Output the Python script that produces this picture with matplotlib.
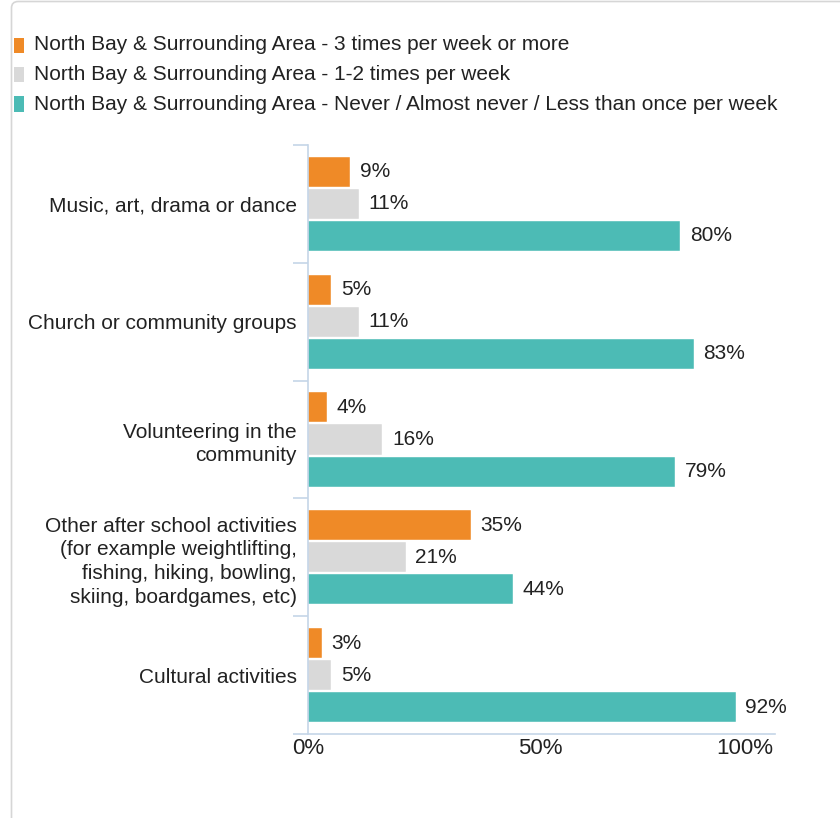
import matplotlib
matplotlib.use("Agg")
import matplotlib.pyplot as plt
from matplotlib.patches import Rectangle, FancyBboxPatch
import numpy as np

plt.rcParams['font.family'] = ['Liberation Sans', 'DejaVu Sans']

categories = [
    "Music, art, drama or dance",
    "Church or community groups",
    "Volunteering in the\ncommunity",
    "Other after school activities\n(for example weightlifting,\nfishing, hiking, bowling,\nskiing, boardgames, etc)",
    "Cultural activities",
]
series_names = [
    "North Bay & Surrounding Area - 3 times per week or more",
    "North Bay & Surrounding Area - 1-2 times per week",
    "North Bay & Surrounding Area - Never / Almost never / Less than once per week",
]
three_plus = [9, 5, 4, 35, 3]
one_two = [11, 11, 16, 21, 5]
never = [80, 83, 79, 44, 92]
colors = ["#EF8A27", "#D9D9D9", "#4CBBB5"]
x_ticks = [0, 50, 100]
x_tick_labels = ["0%", "50%", "100%"]

W, H = 840, 818
fig = plt.figure(figsize=(W / 100, H / 100), dpi=100)

# border
fig.add_artist(FancyBboxPatch((11.5 / W, -10 / H), (W + 20) / W, (H - 1.5 + 10) / H,
                              boxstyle="round,pad=0,rounding_size=0.008",
                              transform=fig.transFigure, fc="none", ec="#D6D6D6", lw=1.2))

ax_left, ax_right = 308, 775
ax_top, ax_bot = 145, 734
ax = fig.add_axes([ax_left / W, 1 - ax_bot / H, (ax_right - ax_left) / W, (ax_bot - ax_top) / H])

n = len(categories)
y = np.arange(n)
h = 0.255
off = 0.272
text_color = "#222222"
fs = 15
for i, (vals, c) in enumerate(zip([three_plus, one_two, never], colors)):
    yy = y + (i - 1) * off
    ax.barh(yy, vals, height=h, color=c, edgecolor="white", linewidth=0.3)
    for yv, v in zip(yy, vals):
        ax.annotate(f"{v}%", (v, yv), xytext=(7, 0), textcoords="offset points",
                    ha="left", va="center", fontsize=fs, color=text_color)

ax.set_ylim(n - 0.5, -0.5)
ax.set_xlim(0, 100.45)
axis_color = "#C5D5E8"
for s in ["top", "right"]:
    ax.spines[s].set_visible(False)
ax.spines["left"].set_color(axis_color)
ax.spines["bottom"].set_color(axis_color)
ax.spines["left"].set_linewidth(1.2)
ax.spines["bottom"].set_linewidth(1.2)

ax.set_yticks(y)
ax.set_yticklabels(categories, fontsize=fs, color=text_color, linespacing=1.32)
ax.tick_params(axis="y", which="major", length=0, pad=8)
ax.set_yticks(np.arange(n + 1) - 0.5, minor=True)
ax.tick_params(axis="y", which="minor", length=11, color=axis_color, width=1.2)
for lbl in ax.get_yticklabels():
    lbl.set_multialignment("right")

ax.set_xticks(x_ticks)
ax.set_xticklabels(x_tick_labels, fontsize=16, color=text_color)
ax.tick_params(axis="x", length=0, pad=3)
ax.get_xticklabels()[-1].set_horizontalalignment("right")

# legend
leg_y = [45, 74.5, 104]
for name, c, ly in zip(series_names, colors, leg_y):
    fig.add_artist(Rectangle((14 / W, 1 - (ly + 7.5) / H), 9.5 / W, 15 / H,
                             transform=fig.transFigure, fc=c, ec="none"))
    fig.text(34 / W, 1 - ly / H, name, ha="left", va="center", fontsize=fs, color=text_color)

fig.savefig("out.png", dpi=100)
